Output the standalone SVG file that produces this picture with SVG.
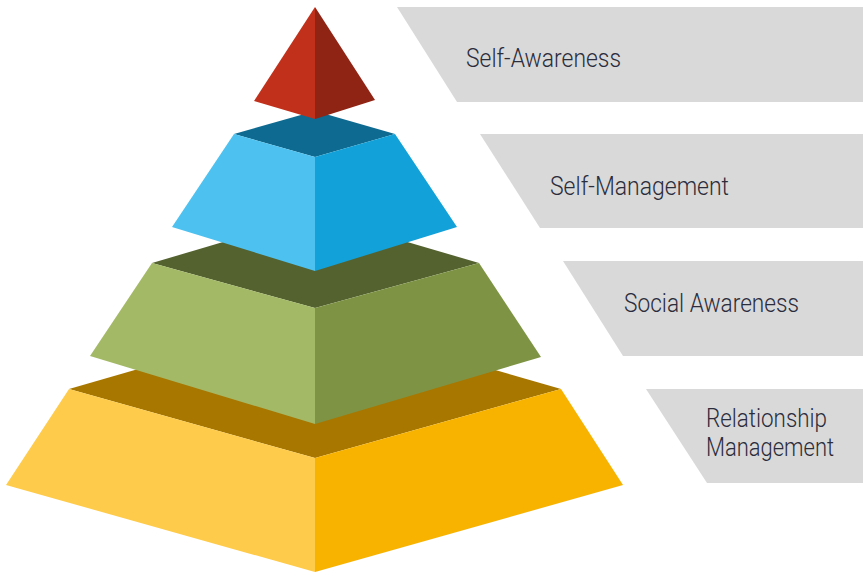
<svg xmlns="http://www.w3.org/2000/svg" width="863" height="574" viewBox="0 0 863 574">
<style>
.lbl{fill:#d9d9d9}
.t{font-family:Roboto,"Liberation Sans",sans-serif;font-weight:300;font-size:25px;fill:#2b2d3c}
</style>
<rect width="863" height="574" fill="#ffffff"/>
<g id="tier4">
<polygon points="69,389 315,318 561,389 315,458" fill="#a87700"/>
<polygon points="69,389 315,458 315,572 6,485" fill="#fecb4a"/>
<polygon points="561,389 315,458 315,572 623,485" fill="#f8b200"/>
</g>
<g id="tier3">
<polygon points="152,263 315,215 479,263 315,308" fill="#54622f"/>
<polygon points="152,263 315,308 315,424 90,356" fill="#a3b966"/>
<polygon points="479,263 315,308 315,424 541,357" fill="#7e9444"/>
</g>
<g id="tier2">
<polygon points="234,134 315,111 395,134 315,157" fill="#0e6a91"/>
<polygon points="234,134 315,157 315,271 172,227" fill="#4dc1f0"/>
<polygon points="395,134 315,157 315,271 457,227" fill="#12a1d8"/>
</g>
<g id="tier1">
<polygon points="315,7 315,119 254,101" fill="#c0301a"/>
<polygon points="315,7 315,119 375,100" fill="#8f2314"/>
</g>
<g id="label1">
<polygon class="lbl" points="397,7 863,7 863,102 457,102"/>
<text class="t" x="466" y="67" textLength="155" lengthAdjust="spacingAndGlyphs">Self-Awareness</text>
</g>
<g id="label2">
<polygon class="lbl" points="480,134 863,134 863,228 540,228"/>
<text class="t" x="550" y="195" textLength="179" lengthAdjust="spacingAndGlyphs">Self-Management</text>
</g>
<g id="label3">
<polygon class="lbl" points="563,261 863,261 863,356 623,356"/>
<text class="t" x="624" y="312" textLength="175" lengthAdjust="spacingAndGlyphs">Social Awareness</text>
</g>
<g id="label4">
<polygon class="lbl" points="646,389 863,389 863,483 707,483"/>
<text class="t" x="706" y="427" textLength="121" lengthAdjust="spacingAndGlyphs">Relationship</text>
<text class="t" x="706" y="456" textLength="128" lengthAdjust="spacingAndGlyphs">Management</text>
</g>
<g id="connectors"/>
</svg>
